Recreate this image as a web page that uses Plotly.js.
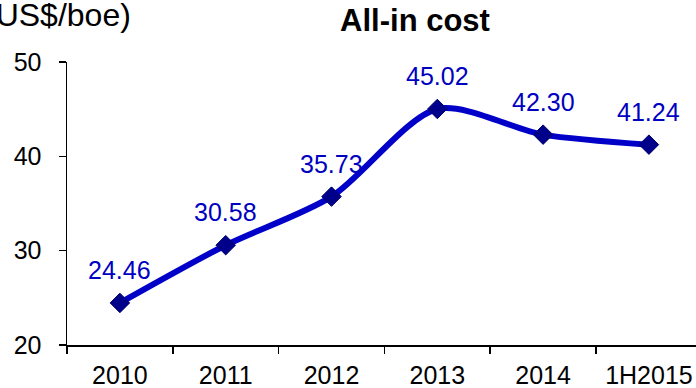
<!DOCTYPE html>
<html>
<head>
<meta charset="utf-8">
<script src="https://cdn.plot.ly/plotly-3.0.1.min.js"></script>
<style>html,body{margin:0;padding:0;background:#fff;}#chart{width:696px;height:388px;}</style>
</head>
<body>
<div id="chart"></div>
<script>
const categories = ["2010", "2011", "2012", "2013", "2014", "1H2015"];
const allInCost = [24.46, 30.58, 35.73, 45.02, 42.30, 41.24];
const yTicks = [20, 30, 40, 50];

const FONT = "Liberation Sans, Arial, sans-serif";

const trace = {
  x: categories,
  y: allInCost,
  type: "scatter",
  mode: "lines+markers",
  line: {color: "#0000C8", width: 6, shape: "spline", smoothing: 0.8},
  marker: {symbol: "diamond", size: 15, color: "#00008A", line: {color: "#00006A", width: 1}},
  hoverinfo: "skip"
};

const labelAnnotations = categories.map((c, i) => ({
  x: i, y: allInCost[i], xref: "x", yref: "y",
  text: allInCost[i].toFixed(2),
  showarrow: false, yshift: 33,
  font: {family: FONT, size: 25, color: "#0000C0"}
}));

const layout = {
  width: 696, height: 388,
  margin: {l: 67, r: 0, t: 62, b: 43, pad: 0},
  paper_bgcolor: "#ffffff", plot_bgcolor: "#ffffff",
  showlegend: false,
  title: {
    text: "<b>All-in cost</b>",
    font: {family: FONT, size: 31, color: "#000"},
    xref: "container", x: 415 / 696, xanchor: "center",
    yref: "container", y: 1 - 20 / 388, yanchor: "middle"
  },
  xaxis: {
    type: "category",
    range: [-0.5, 5.445],
    showline: true, linecolor: "#000", linewidth: 1.5,
    ticks: "outside", tickson: "boundaries", ticklen: 7, tickcolor: "#000", tickwidth: 1.5,
    ticklabelstandoff: 7,
    tickfont: {family: FONT, size: 25, color: "#000"},
    showgrid: false, zeroline: false, fixedrange: true
  },
  yaxis: {
    range: [20, 50],
    tickvals: yTicks,
    showline: true, linecolor: "#000", linewidth: 1.5,
    ticks: "outside", ticklen: 7, tickcolor: "#000", tickwidth: 1.5,
    ticklabelstandoff: 12,
    tickfont: {family: FONT, size: 25, color: "#000"},
    showgrid: false, zeroline: false, fixedrange: true
  },
  annotations: [
    {
      text: "(US$/boe)", xref: "paper", yref: "paper",
      x: 0, xshift: -84, xanchor: "left",
      y: (345 - 15) / 283, yanchor: "middle",
      showarrow: false,
      font: {family: FONT, size: 32, color: "#000"}
    }
  ].concat(labelAnnotations)
};

Plotly.newPlot("chart", [trace], layout, {staticPlot: true, displayModeBar: false});
</script>
</body>
</html>
